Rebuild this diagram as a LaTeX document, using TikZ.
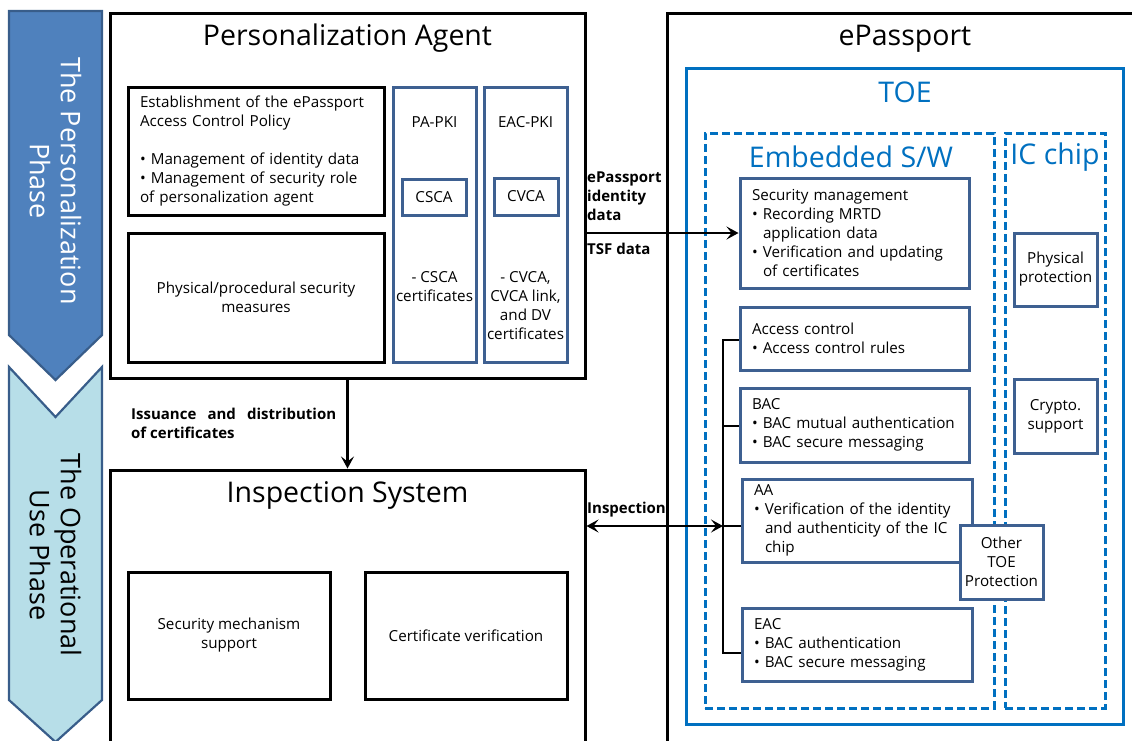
\documentclass[tikz,border=0pt]{standalone}
\usepackage{fontspec}
\setmainfont{Open Sans}
\usetikzlibrary{arrows.meta}
\definecolor{phdark}{HTML}{4F81BD}
\definecolor{phlight}{HTML}{B7DEE8}
\definecolor{phborder}{HTML}{385D8A}
\definecolor{steel}{RGB}{62,96,145}
\definecolor{toeblue}{HTML}{0070C0}
\tikzset{
  body/.style={font=\fontsize{15.2}{19}\selectfont},
  bbody/.style={font=\fontsize{15}{19}\selectfont\bfseries},
  title/.style={font=\fontsize{28.5}{32}\selectfont},
  btitle/.style={font=\fontsize{28.5}{32}\selectfont, text=toeblue},
  blackbox/.style={draw=black, line width=3pt, rectangle, inner sep=0pt},
  steelbox/.style={draw=steel, line width=3pt, rectangle, inner sep=0pt, fill=white},
  toebox/.style={draw=toeblue, line width=3pt, rectangle, inner sep=0pt},
  dashbox/.style={draw=toeblue, line width=3pt, dash pattern=on 8pt off 4pt, rectangle, inner sep=0pt},
  lefttext/.style={body, align=left, inner xsep=12pt},
  ctext/.style={body, align=center},
  conn/.style={draw=black, line width=2.2pt},
  tip/.style={-{Stealth[length=12pt,width=13pt,inset=5pt]}},
  phasetext/.style={font=\fontsize{27}{31}\selectfont, align=center, rotate=-90},
}
\begin{document}
\begin{tikzpicture}[x=1pt,y=-1pt]
\useasboundingbox (0,0) rectangle (1132,740);
\clip (0,0) rectangle (1132,740);

% phase arrows
\draw[fill=phdark, draw=phborder, line width=2.2pt, line join=miter]
  (9,11) -- (102,11) -- (102,335) -- (55.5,380) -- (9,335) -- cycle;
\node[phasetext, text=white] (ph1) at (55.5,181) {The Personalization\\Phase};
\draw[fill=phlight, draw=phborder, line width=2.2pt, line join=miter]
  (9,367) -- (55.5,417) -- (102,367) -- (102,700) -- (55.5,742) -- (9,700) -- cycle;
\node[phasetext, text=black] (ph2) at (55.5,555) {The Operational\\Use Phase};

% Personalization Agent
\node[blackbox, minimum width=475pt, minimum height=365pt] (pa) at (347.5,195.5) {};
\node[title] (patitle) at (347.5,38) {Personalization Agent};
\node[blackbox, minimum width=256pt, minimum height=128pt, text width=232pt, lefttext] (est) at (256,151)
 {Establishment of the ePassport\\Access Control Policy\\[19pt]
  • Management of identity data\\• Management of security role\\of personalization agent};
\node[blackbox, minimum width=256pt, minimum height=129pt, ctext] (phys) at (256,297.5)
 {Physical/procedural security\\measures};
\node[steelbox, minimum width=83pt, minimum height=275pt] (papki) at (434.5,224.5) {};
\node[ctext] (papkil) at (434.5,122) {PA-PKI};
\node[steelbox, minimum width=64pt, minimum height=36pt, ctext] (csca) at (434,197) {CSCA};
\node[ctext] (cscal) at (434.5,286.5) {- CSCA\\certificates};
\node[steelbox, minimum width=83pt, minimum height=275pt] (eacpki) at (525.5,224.5) {};
\node[ctext] (eacpkil) at (525.5,122) {EAC-PKI};
\node[steelbox, minimum width=64pt, minimum height=37pt, ctext] (cvca) at (526,196.5) {CVCA};
\node[ctext] (cvcal) at (525.5,305.5) {- CVCA,\\CVCA link,\\and DV\\certificates};

% Inspection System
\node[blackbox, minimum width=475pt, minimum height=290pt] (is) at (347.5,615) {};
\node[title] (istitle) at (347.5,495) {Inspection System};
\node[blackbox, minimum width=202pt, minimum height=127pt, ctext] (smsup) at (229,635.5)
 {Security mechanism\\support};
\node[blackbox, minimum width=202pt, minimum height=127pt, ctext] (certver) at (466,635.5)
 {Certificate verification};

% ePassport
\node[blackbox, minimum width=478pt, minimum height=747pt] (ep) at (906,386.5) {};
\node[title] (eptitle) at (905,39) {ePassport};
\node[toebox, minimum width=437pt, minimum height=656pt] (toe) at (904.5,396) {};
\node[btitle] (toetitle) at (905,92) {TOE};
\node[dashbox, minimum width=289pt, minimum height=575pt] (emb) at (849.5,420.5) {};
\node[btitle] (embtitle) at (851,157) {Embedded S/W};
\node[dashbox, minimum width=100pt, minimum height=575pt] (ic) at (1055,420.5) {};
\node[btitle] (ictitle) at (1055,157) {IC chip};

\node[steelbox, minimum width=229pt, minimum height=110pt, text width=205pt, lefttext] (secm) at (854.5,233)
 {Security management\\• Recording MRTD\\\hspace*{11pt}application data\\• Verification and updating\\\hspace*{11pt}of certificates};
\node[steelbox, minimum width=229pt, minimum height=63pt, text width=205pt, lefttext] (acc) at (854.5,338.5)
 {Access control\\• Access control rules};
\node[steelbox, minimum width=229pt, minimum height=74pt, text width=205pt, lefttext] (bac) at (854.5,425)
 {BAC\\• BAC mutual \mbox{authentication}\\• BAC secure messaging};
\node[steelbox, minimum width=230pt, minimum height=83pt, text width=206pt, lefttext] (aa) at (857,520.5)
 {AA\\• Verification of the identity\\\hspace*{11pt}and authenticity of the IC\\\hspace*{11pt}chip};
\node[steelbox, minimum width=230pt, minimum height=73pt, text width=206pt, lefttext] (eac) at (857,644.5)
 {EAC\\• BAC authentication\\• BAC secure messaging};
\node[steelbox, minimum width=83pt, minimum height=74pt, ctext] (other) at (1001.5,562)
 {Other\\TOE\\Protection};
\node[steelbox, minimum width=83pt, minimum height=73pt, ctext] (physprot) at (1055.5,269.5)
 {Physical\\protection};
\node[steelbox, minimum width=83pt, minimum height=74pt, ctext] (crypto) at (1055.5,416)
 {Crypto.\\support};

% connectors
\draw[conn, tip] (pa.south) -- (is.north);
\node[bbody, align=justify, text width=205pt, anchor=north west, inner sep=0pt] (isslbl) at (131,408)
 {Issuance and distribution of certificates};

\draw[conn, tip] (secm.west -| pa.east) -- (secm.west);
\node[bbody, align=left, anchor=west, inner sep=0pt] (idlbl) at (587,196) {ePassport\\identity\\data};
\node[bbody, anchor=west, inner sep=0pt] (tsflbl) at (587,249) {TSF data};

\coordinate (bj) at (723,526);
\coordinate (bt) at (723,340);
\coordinate (bm) at (723,426);
\coordinate (bb) at (723,653);
\draw[conn, {Stealth[length=12pt,width=13pt,inset=5pt]}-{Stealth[length=12pt,width=13pt,inset=5pt]}] (is.east |- bj) -- (bj);
\draw[conn] (bj) -- (aa.west |- bj);
\node[bbody, anchor=west, inner sep=0pt] (insplbl) at (587,510) {Inspection};
\draw[conn] (acc.west |- bt) -- (bt) -- (bb) -- (eac.west |- bb);
\draw[conn] (bm) -- (bac.west |- bm);
\end{tikzpicture}
\end{document}
